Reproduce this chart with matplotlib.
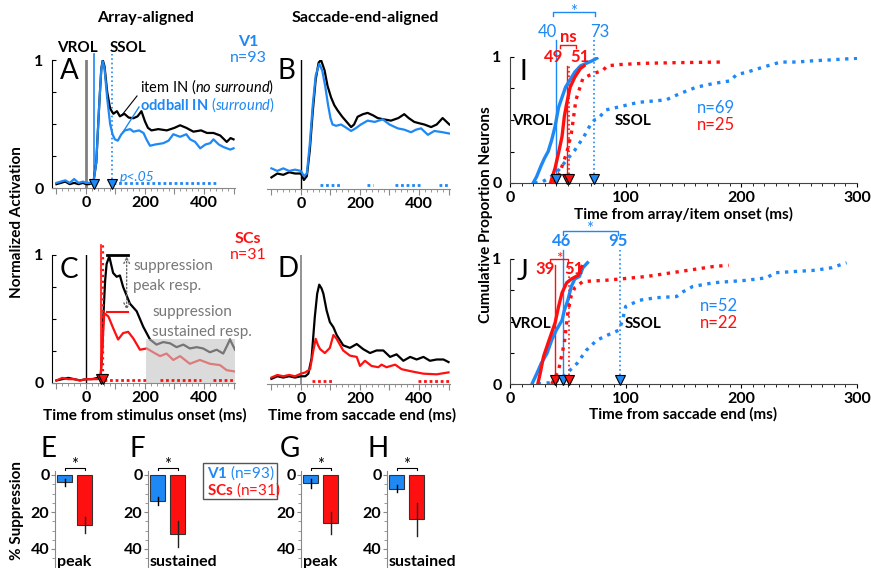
import matplotlib
matplotlib.use('Agg')
import matplotlib.pyplot as plt
from matplotlib.patches import Rectangle
from matplotlib.lines import Line2D

plt.rcParams['font.family'] = ['Lato', 'DejaVu Sans']
plt.rcParams['mathtext.fontset'] = 'custom'
plt.rcParams['mathtext.rm'] = 'Lato'
plt.rcParams['mathtext.it'] = 'Lato:italic'
plt.rcParams['mathtext.bf'] = 'Lato:bold'

BLUE = '#1e88f5'
RED = '#ff1010'
GRAY = '#808080'

# ---- panel A: V1, array-aligned ----
a_t_item = [-100, -85, -70, -55, -40, -25, -10, 0, 10, 25, 35, 45, 52, 57, 63, 72, 82, 93, 105, 115, 130, 145,
            161, 175, 188, 200, 210, 222, 245, 274, 300, 319, 340, 364, 390, 410, 432, 455, 477, 490, 500]
a_item = [.03, .04, .05, .03, .04, .03, .04, .03, .03, .04, .2, .65, .93, 1.0, .95, .75, .62, .58, .6, .56, .58, .55,
          .545, .56, .6, .52, .47, .45, .46, .45, .47, .49, .47, .44, .45, .43, .43, .41, .36, .39, .38]
a_t_odd = [-100, -85, -70, -55, -40, -25, -10, 0, 10, 25, 35, 45, 52, 57, 63, 72, 82, 90, 98, 108, 120, 132, 150,
           161, 180, 195, 205, 217, 235, 262, 280, 296, 319, 340, 353, 370, 387, 405, 421, 432, 450, 466, 489, 500]
a_odd = [.04, .05, .06, .04, .07, .04, .05, .04, .04, .04, .2, .65, .93, .99, .93, .7, .5, .42, .38, .37, .42, .45,
         .46, .44, .45, .43, .38, .33, .34, .35, .37, .42, .40, .42, .38, .36, .31, .34, .35, .38, .34, .32, .30, .31]
a_sig = [(93, 443)]
a_vrol, a_ssol = 27, 88

# ---- panel B: V1, saccade-end-aligned ----
b_t_item = [-100, -80, -60, -40, -20, 0, 10, 20, 30, 40, 50, 60, 68, 80, 90, 102, 113, 124, 140, 155, 170, 180,
            192, 210, 226, 245, 260, 280, 305, 330, 350, 365, 384, 400, 418, 441, 460, 480, 503]
b_item = [.09, .12, .11, .13, .12, .12, .07, .1, .3, .6, .85, .98, 1.0, .92, .8, .71, .65, .61, .56, .52, .48, .5,
          .56, .58, .59, .57, .55, .54, .53, .55, .58, .55, .52, .51, .5, .48, .5, .55, .5]
b_t_odd = [-100, -80, -60, -40, -20, 0, 10, 20, 30, 40, 50, 62, 72, 82, 92, 100, 107, 119, 136, 150, 170, 185,
           203, 226, 250, 277, 300, 328, 350, 373, 390, 407, 430, 452, 480, 503]
b_odd = [.16, .14, .16, .14, .15, .14, .1, .12, .35, .65, .88, .97, .92, .8, .65, .55, .5, .49, .5, .48, .45, .47,
         .5, .53, .52, .54, .5, .47, .46, .44, .46, .47, .42, .45, .44, .43]
b_sig = [(64, 138), (224, 243), (318, 403), (468, 502)]

# ---- panel C: SCs, array-aligned ----
c_t_item = [-100, -80, -60, -40, -20, 0, 20, 40, 50, 55, 59, 65, 70, 79, 92, 104, 115, 126, 149, 172, 194, 217,
            239, 262, 285, 307, 330, 352, 375, 397, 420, 443, 465, 480, 488, 505]
c_item = [.02, .03, .04, .03, .02, .03, .03, .04, .06, .25, .52, .8, .93, .99, .86, .83, .84, .75, .62, .56, .44, .34,
          .30, .32, .31, .28, .30, .27, .28, .27, .24, .26, .23, .3, .34, .26]
c_t_odd = [-100, -80, -60, -40, -20, 0, 20, 40, 50, 55, 62, 76, 92, 109, 126, 143, 160, 183, 206, 228, 251, 273,
           296, 319, 352, 386, 420, 454, 477, 505]
c_odd = [.02, .04, .03, .03, .02, .03, .03, .03, .05, .26, .545, .52, .43, .34, .39, .40, .35, .26, .27, .24, .21, .23,
         .18, .21, .15, .18, .15, .14, .10, .09]
c_sig = [(62, 203), (250, 390), (432, 505)]
c_vrol, c_ssol = 50, 59

# ---- panel D: SCs, saccade-end-aligned ----
d_t_item = [-100, -80, -60, -40, -20, 0, 15, 25, 36, 47, 55, 62, 70, 76, 87, 98, 110, 121, 143, 166, 189, 211,
            234, 256, 279, 302, 324, 347, 370, 392, 415, 437, 460, 483, 500]
d_item = [.04, .06, .05, .06, .05, .06, .06, .08, .2, .52, .7, .77, .74, .7, .57, .48, .44, .38, .30, .28, .31, .27,
          .24, .26, .26, .21, .23, .18, .21, .19, .21, .18, .19, .19, .17]
d_t_odd = [-100, -80, -60, -40, -20, 0, 15, 31, 42, 50, 58, 65, 81, 98, 110, 121, 143, 166, 189, 200, 217, 239,
           262, 273, 290, 319, 341, 370, 415, 460, 500]
d_odd = [.05, .07, .06, .07, .06, .08, .09, .115, .26, .35, .3, .27, .24, .28, .38, .35, .26, .22, .21, .14, .18, .14,
         .13, .15, .13, .15, .115, .10, .08, .075, .09]
d_sig = [(36, 104), (398, 500)]

# ---- panel I: cumulative latencies, array-aligned ----
i_v1_vrol_t = [20, 23, 27, 30, 33, 36, 39, 42, 45, 48, 52, 56, 61, 66, 71, 75]
i_v1_vrol = [0, .05, .14, .2, .25, .34, .45, .6, .68, .76, .82, .88, .93, .95, .97, .99]
i_v1_ssol_t = [21, 28, 32, 40, 47, 56, 64, 70, 73, 76, 83, 97, 111, 135, 147, 161, 176, 190, 196, 205, 219, 234,
               248, 262, 277, 300]
i_v1_ssol = [0, .01, .03, .08, .16, .26, .37, .47, .5, .51, .58, .61, .64, .66, .71, .76, .79, .81, .86, .88, .92,
             .96, .96, .97, .977, .99]
i_sc_vrol_t = [35, 39, 42, 45, 47, 49, 52, 56, 61, 64]
i_sc_vrol = [0, .12, .24, .37, .53, .63, .76, .84, .91, .93]
i_sc_ssol_t = [37, 43, 49, 53, 57, 63, 72, 80, 84, 95, 116, 144, 183]
i_sc_ssol = [0, .08, .24, .39, .66, .83, .87, .89, .93, .94, .95, .955, .96]
i_medians = {'v1_vrol': 40, 'v1_ssol': 73, 'sc_vrol': 49, 'sc_ssol': 51}

# ---- panel J: cumulative latencies, saccade-end-aligned ----
j_v1_vrol_t = [19, 23, 27, 32, 36, 40, 45, 47, 50, 53, 56, 60, 63, 67]
j_v1_vrol = [0, .08, .165, .245, .35, .43, .51, .59, .67, .78, .84, .86, .93, .97]
j_v1_ssol_t = [24, 34, 42, 49, 58, 66, 75, 84, 94, 97, 100, 112, 126, 144, 150, 158, 176, 205, 222, 229, 264, 278, 291]
j_v1_ssol = [0, .01, .03, .085, .165, .27, .35, .39, .43, .5, .62, .67, .69, .70, .74, .78, .81, .83, .85, .89, .91,
             .93, .97]
j_sc_vrol_t = [24, 26, 29, 33, 36, 39, 42, 45, 49, 53, 59, 62]
j_sc_vrol = [0, .08, .22, .33, .41, .49, .62, .73, .81, .84, .87, .94]
j_sc_ssol_t = [36, 42, 47, 50, 53, 56, 63, 83, 95, 118, 147, 176, 189]
j_sc_ssol = [0, .11, .33, .57, .71, .77, .82, .83, .84, .86, .90, .94, .95]
j_medians = {'v1_vrol': 46, 'v1_ssol': 95, 'sc_vrol': 39, 'sc_ssol': 51}

# ---- panels E-H: % suppression ----
bar_letters = ['E', 'F', 'G', 'H']
bar_labels = ['peak', 'sustained', 'peak', 'sustained']
v1_supp = [4, 14, 4.5, 7.3]
v1_err = [1.8, 2, 2.5, 2]
sc_supp = [27, 31.8, 26, 24]
sc_err = [4.5, 7, 6, 9]

W, H = 871, 568
fig = plt.figure(figsize=(W / 100, H / 100), dpi=100)


def box(l, t, r, b):
    return fig.add_axes([l / W, 1 - b / H, (r - l) / W, (b - t) / H])


def ftext(x, y, s, **kw):
    kw.setdefault('va', 'baseline')
    return fig.text(x / W, 1 - y / H, s, **kw)


def fline(xs, ys, **kw):
    fig.add_artist(Line2D([x / W for x in xs], [1 - y / H for y in ys], **kw))


def bold_ticks(ax):
    for lab in ax.get_xticklabels() + ax.get_yticklabels():
        lab.set_fontweight('bold')


def time_axes(l, t, r, b, left_spine, zero_color, zero_lw):
    ax = box(l, t, r, b)
    ax.set_xlim(-115, 505)
    ax.set_ylim(0, 1)
    ax.patch.set_visible(False)
    for s in ['top', 'right']:
        ax.spines[s].set_visible(False)
    ax.spines['bottom'].set_color('#888888')
    ax.set_xticks(range(-100, 501, 100))
    ax.set_xticklabels(['', '0', '', '200', '', '400', ''])
    ax.set_xticks(range(-100, 501, 20), minor=True)
    ax.tick_params(axis='x', which='major', length=4, color='#888888', pad=2, labelsize=11.5)
    ax.tick_params(axis='x', which='minor', length=2, color='#888888')
    if left_spine:
        ax.set_yticks([0, 0.25, 0.5, 0.75, 1])
        ax.set_yticklabels(['0', '', '', '', '1'])
        ax.tick_params(axis='y', direction='in', length=3, pad=6, labelsize=11.5)
    else:
        ax.spines['left'].set_visible(False)
        ax.set_yticks([])
    bold_ticks(ax)
    ax.plot([0, 0], [0, 1], color=zero_color, lw=zero_lw, zorder=1)
    return ax


def sig_dots(ax, spans, color, y):
    for s, e in spans:
        ax.plot([s, e], [y, y], color=color, lw=2, ls=(0, (1, 1)), zorder=5, clip_on=False)


def tri(ax, x, color):
    ax.plot([x], [0.035], marker='v', ms=7, mfc=color, mec='k', mew=0.8, zorder=6, clip_on=False, ls='none')


# A
axA = time_axes(52, 60, 235, 188, True, GRAY, 2)
axA.plot(a_t_item, a_item, color='k', lw=1.6, zorder=3)
axA.plot(a_t_odd, a_odd, color=BLUE, lw=1.6, zorder=3)
axA.plot([a_vrol, a_vrol], [0, 1.05], color=BLUE, lw=1.2, clip_on=False)
axA.plot([a_ssol, a_ssol], [0, 1.05], color=BLUE, lw=1.2, ls=':', clip_on=False)
sig_dots(axA, a_sig, BLUE, 0.04)
tri(axA, a_vrol, BLUE)
tri(axA, a_ssol, BLUE)

# B
axB = time_axes(267, 60, 450, 189, False, 'k', 1)
axB.plot(b_t_item, b_item, color='k', lw=1.6, zorder=3)
axB.plot(b_t_odd, b_odd, color=BLUE, lw=1.6, zorder=3)
sig_dots(axB, b_sig, BLUE, 0.03)

# C
axC = time_axes(52, 255, 235, 383, True, 'k', 1)
axC.plot(c_t_item, c_item, color='k', lw=1.6, zorder=2)
axC.plot(c_t_odd, c_odd, color=RED, lw=1.6, zorder=2)
axC.add_patch(Rectangle((203, 0), 302, 0.34, facecolor=(0.77, 0.77, 0.77), alpha=0.6, lw=0, zorder=3))
axC.plot([c_vrol, c_vrol], [0, 1.08], color=RED, lw=1.2, clip_on=False, zorder=4)
axC.plot([c_ssol, c_ssol], [0, 1.08], color=RED, lw=1.6, ls=':', clip_on=False, zorder=4)
axC.plot([72, 142], [1.0, 1.0], color='k', lw=2, clip_on=False)
axC.plot([72, 142], [0.557, 0.557], color=RED, lw=1.5)
axC.annotate('', xy=(138, 0.57), xytext=(138, 0.99),
             arrowprops=dict(arrowstyle='<->', ls=':', color='#666666', lw=1, shrinkA=0, shrinkB=0))
sig_dots(axC, c_sig, RED, 0.026)
tri(axC, c_vrol, RED)
tri(axC, c_ssol, RED)

# D
axD = time_axes(267, 255, 450, 384, False, GRAY, 1.2)
axD.plot(d_t_item, d_item, color='k', lw=1.6, zorder=3)
axD.plot(d_t_odd, d_odd, color=RED, lw=1.6, zorder=3)
sig_dots(axD, d_sig, RED, 0.025)


def cdf_axes(t, b, xlabel, xlabel_y):
    ax = box(510, t, 857, b)
    ax.set_xlim(0, 300)
    ax.set_ylim(0, 1)
    ax.patch.set_visible(False)
    for s in ['top', 'right']:
        ax.spines[s].set_visible(False)
    ax.spines['left'].set_color('#444444')
    ax.spines['bottom'].set_color('#444444')
    ax.set_xticks([0, 100, 200, 300])
    ax.set_xticks(range(0, 301, 10), minor=True)
    ax.set_yticks([0, 0.25, 0.5, 0.75, 1])
    ax.set_yticklabels(['0', '', '', '', '1'])
    ax.tick_params(axis='x', which='major', length=3, pad=2.5, labelsize=11.5)
    ax.tick_params(axis='x', which='minor', length=2)
    ax.tick_params(axis='y', direction='in', length=3, pad=6, labelsize=11.5)
    bold_ticks(ax)
    ftext(683, xlabel_y, xlabel, ha='center', fontsize=11, fontweight='bold')
    return ax


# I
axI = cdf_axes(57, 183, 'Time from array/item onset (ms)', 219)
axI.plot(i_v1_vrol_t, i_v1_vrol, color=BLUE, lw=2.4, zorder=3)
axI.plot(i_v1_ssol_t, i_v1_ssol, color=BLUE, lw=2.4, ls=':', zorder=3)
axI.plot(i_sc_vrol_t, i_sc_vrol, color=RED, lw=2.4, zorder=3)
axI.plot(i_sc_ssol_t, i_sc_ssol, color=RED, lw=2.4, ls=':', zorder=3)
m = i_medians
axI.plot([m['v1_vrol']] * 2, [0, 1.135], color=BLUE, lw=1, clip_on=False)
axI.plot([m['v1_ssol']] * 2, [0, 1.135], color=BLUE, lw=1.2, ls=':', clip_on=False)
axI.plot([m['sc_vrol']] * 2, [0, 0.93], color=RED, lw=1, clip_on=False)
axI.plot([m['sc_ssol']] * 2, [0, 0.93], color=RED, lw=1.2, ls=':', clip_on=False)
for k, c in [('v1_vrol', BLUE), ('v1_ssol', BLUE), ('sc_vrol', RED), ('sc_ssol', RED)]:
    tri(axI, m[k], c)

# J
axJ = cdf_axes(259, 384, 'Time from saccade end (ms)', 419)
axJ.plot(j_v1_vrol_t, j_v1_vrol, color=BLUE, lw=2.4, zorder=3)
axJ.plot(j_v1_ssol_t, j_v1_ssol, color=BLUE, lw=2.4, ls=':', zorder=3)
axJ.plot(j_sc_vrol_t, j_sc_vrol, color=RED, lw=2.4, zorder=3)
axJ.plot(j_sc_ssol_t, j_sc_ssol, color=RED, lw=2.4, ls=':', zorder=3)
m = j_medians
axJ.plot([m['v1_vrol']] * 2, [0, 1.07], color=BLUE, lw=1, clip_on=False)
axJ.plot([m['v1_ssol']] * 2, [0, 1.07], color=BLUE, lw=1.2, ls=':', clip_on=False)
axJ.plot([m['sc_vrol']] * 2, [0, 0.95], color=RED, lw=1, clip_on=False)
axJ.plot([m['sc_ssol']] * 2, [0, 0.93], color=RED, lw=1.2, ls=':', clip_on=False)
for k, c in [('sc_vrol', RED), ('v1_vrol', BLUE), ('sc_ssol', RED), ('v1_ssol', BLUE)]:
    tri(axJ, m[k], c)

# E-H bars
for i, L in enumerate([55, 148, 301, 387]):
    ax = box(L, 471.3, L + 41.5, 567.5)
    ax.set_xlim(-0.475, 1.6)
    ax.set_ylim(50, -2)
    ax.patch.set_visible(False)
    for s in ['top', 'right', 'bottom']:
        ax.spines[s].set_visible(False)
    ax.spines['left'].set_color('#888888')
    ax.set_xticks([])
    ax.set_yticks([0, 20, 40])
    ax.set_yticks(range(0, 51, 5), minor=True)
    ax.tick_params(axis='y', which='major', length=3, pad=1, labelsize=11.5, color='#888888')
    ax.tick_params(axis='y', which='minor', length=2, color='#888888')
    bold_ticks(ax)
    ax.bar([0], [v1_supp[i]], width=0.75, color=BLUE, edgecolor='#333333', lw=0.8)
    ax.bar([1], [sc_supp[i]], width=0.75, color=RED, edgecolor='#333333', lw=0.8)
    ax.plot([0, 0], [v1_supp[i] - v1_err[i], v1_supp[i] + v1_err[i]], color='k', lw=1)
    ax.plot([1, 1], [sc_supp[i] - sc_err[i], sc_supp[i] + sc_err[i]], color='#222222', lw=1)
    ax.plot([0, 0, 1, 1], [-2.6, -3.6, -3.6, -2.6], color='k', lw=0.8, clip_on=False)
    ax.text(0.5, -2.8, '*', ha='center', va='baseline', fontsize=12)
    ax.text(-0.38, 49, bar_labels[i], ha='left', va='baseline', fontsize=11.5, fontweight='bold')
    ftext([40, 130, 280, 367][i], 457, bar_letters[i], fontsize=20)

# legend box for bars
fig.add_artist(Rectangle((203 / W, 1 - 499 / H), 74 / W, 36 / H, transform=fig.transFigure,
                         fill=False, edgecolor='#555555', lw=1))
ftext(207, 478, r'$\mathbf{V1}$ (n=93)', color=BLUE, fontsize=11)
ftext(207, 495, r'$\mathbf{SCs}$ (n=31)', color=RED, fontsize=11)

# titles and labels
ftext(146, 22, 'Array-aligned', ha='center', fontsize=11.5, fontweight='bold')
ftext(365, 22, 'Saccade-end-aligned', ha='center', fontsize=11.5, fontweight='bold')
ftext(145, 420, 'Time from stimulus onset (ms)', ha='center', fontsize=11, fontweight='bold')
ftext(362, 420, 'Time from saccade end (ms)', ha='center', fontsize=11, fontweight='bold')
ftext(17, 222, 'Normalized Activation', ha='center', va='center', rotation=90, fontsize=11, fontweight='bold')
ftext(17, 510, '% Suppression', ha='center', va='center', rotation=90, fontsize=11, fontweight='bold')
ftext(486, 215, 'Cumulative Proportion Neurons', ha='center', va='center', rotation=90, fontsize=11,
      fontweight='bold')

# panel letters
for x, y, s in [(60, 79, 'A'), (277, 79, 'B'), (60, 278, 'C'), (277, 277, 'D'), (520, 80, 'I'), (517, 280, 'J')]:
    ftext(x, y, s, fontsize=20)

# A annotations
ftext(57, 52, 'VROL', fontsize=11, fontweight='bold')
ftext(110, 52, 'SSOL', fontsize=11, fontweight='bold')
ftext(248, 46, 'V1', ha='center', color=BLUE, fontsize=11.5, fontweight='bold')
ftext(248, 62, 'n=93', ha='center', color=BLUE, fontsize=11.5)
ftext(140, 92, r'item IN ($\mathit{no\ surround}$)', fontsize=10.5)
ftext(140, 110, r'$\mathbf{oddball\ IN}$ ($\mathit{surround}$)', color=BLUE, fontsize=10.5)
fline([137, 122], [96, 115], color='k', lw=0.8)
fline([139, 123], [107, 132], color=BLUE, lw=1)
ftext(120, 181, 'p<.05', color=BLUE, fontsize=10, fontstyle='italic')

# C annotations
ftext(248, 243, 'SCs', ha='center', color=RED, fontsize=11.5, fontweight='bold')
ftext(248, 259, 'n=31', ha='center', color=RED, fontsize=11.5)
ftext(133, 270, 'suppression', color='#777777', fontsize=11)
ftext(133, 290, 'peak resp.', color='#777777', fontsize=11)
ftext(152, 316, 'suppression', color='#777777', fontsize=11)
ftext(152, 336, 'sustained resp.', color='#777777', fontsize=11)

# I annotations
ftext(557, 37, '40', ha='right', color=BLUE, fontsize=12)
ftext(590, 37, '73', ha='left', color=BLUE, fontsize=12)
fline([553, 553, 595, 595], [16, 12, 12, 16], color=BLUE, lw=1)
ftext(574, 17, '*', ha='center', color=BLUE, fontsize=12)
ftext(568, 42, 'ns', ha='center', color=RED, fontsize=12, fontweight='bold')
fline([560, 560, 576, 576], [48, 45, 45, 48], color=RED, lw=1)
ftext(563, 62, '49', ha='right', color=RED, fontsize=12, fontweight='bold')
ftext(570, 62, '51', ha='left', color=RED, fontsize=12, fontweight='bold')
ftext(512, 125, 'VROL', fontsize=11, fontweight='bold')
ftext(615, 125, 'SSOL', fontsize=11, fontweight='bold')
ftext(697, 113, 'n=69', color=BLUE, fontsize=12)
ftext(697, 130, 'n=25', color=RED, fontsize=12)

# J annotations
ftext(562, 246, '46', ha='center', color=BLUE, fontsize=12, fontweight='bold')
ftext(618, 246, '95', ha='center', color=BLUE, fontsize=12, fontweight='bold')
fline([563, 563, 618, 618], [235, 231, 231, 235], color=BLUE, lw=1)
ftext(590, 234, '*', ha='center', color=BLUE, fontsize=12)
ftext(555, 274, '39', ha='right', color=RED, fontsize=12, fontweight='bold')
ftext(564, 274, '51', ha='left', color=RED, fontsize=12, fontweight='bold')
fline([550, 550, 568, 568], [263, 259, 259, 263], color=RED, lw=1)
ftext(559, 263, '*', ha='center', color=RED, fontsize=11)
ftext(510, 328, 'VROL', fontsize=11, fontweight='bold')
ftext(625, 328, 'SSOL', fontsize=11, fontweight='bold')
ftext(700, 311, 'n=52', color=BLUE, fontsize=12)
ftext(700, 328, 'n=22', color=RED, fontsize=12)

fig.savefig('out.png', dpi=100)
